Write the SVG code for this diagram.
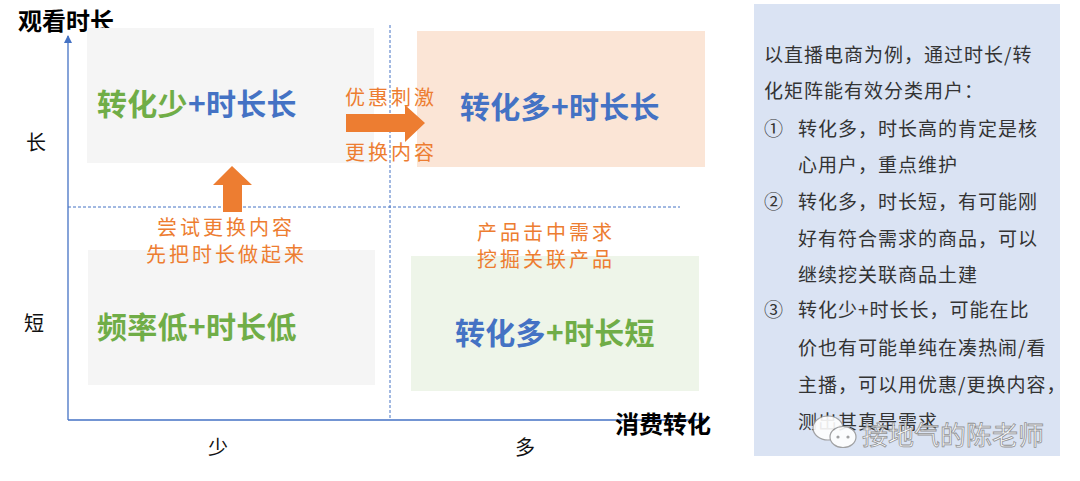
<svg xmlns="http://www.w3.org/2000/svg" width="1080" height="481" viewBox="0 0 1080 481">
<style>
  text { font-family: "Noto Sans CJK SC", "Noto Sans", sans-serif; dominant-baseline: central; }
  .axis { stroke: #4472c4; stroke-width: 1.3; fill: none; }
  .dash { stroke: #4472c4; stroke-width: 1; stroke-dasharray: 3 2; fill: none; }
  .big { font-size: 30px; font-weight: bold; letter-spacing: 0.3px; }
  .g { fill: #70ad47; }
  .b { fill: #4472c4; }
  .or { fill: #ed7d31; font-size: 20px; letter-spacing: 3px; }
  .lab { fill: #111; font-size: 20px; }
  .title { fill: #000; font-size: 24px; font-weight: bold; }
  .p { fill: #333; font-size: 19px; letter-spacing: 1px; }
  .arrow { fill: #ed7d31; }
</style>
<defs>
  <marker id="ah" markerWidth="8" markerHeight="8" refX="7" refY="4" orient="auto" markerUnits="userSpaceOnUse">
    <path d="M0,0 L8,4 L0,8 Z" fill="#4472c4"/>
  </marker>
</defs>
<rect width="1080" height="481" fill="#ffffff"/>

<g id="axes">
  <line class="axis" x1="68" y1="420" x2="68" y2="36" marker-end="url(#ah)"/>
  <line class="axis" x1="68" y1="420" x2="706" y2="420" marker-end="url(#ah)"/>
  <line class="dash" x1="390" y1="25" x2="390" y2="420"/>
  <line class="dash" x1="68" y1="207" x2="680" y2="207"/>
  <text class="title" x="18" y="19">观看时长</text>
  <text class="lab" x="26" y="141">长</text>
  <text class="lab" x="24" y="322">短</text>
  <text class="lab" x="218" y="446" text-anchor="middle">少</text>
  <text class="lab" x="525" y="446" text-anchor="middle">多</text>
</g>

<g id="q-top-left">
  <rect x="87" y="28" width="287" height="135" fill="#f5f5f5"/>
  <text class="big" x="97" y="102"><tspan class="g">转化少</tspan><tspan class="b">+时长长</tspan></text>
</g>
<g id="q-top-right">
  <rect x="417" y="31" width="288" height="136" fill="#fbe5d6"/>
  <text class="big b" x="460" y="105">转化多+时长长</text>
</g>
<g id="q-bottom-left">
  <rect x="88" y="250" width="287" height="135" fill="#f5f5f5"/>
  <text class="big g" x="97" y="325">频率低+时长低</text>
</g>
<g id="q-bottom-right">
  <rect x="411" y="256" width="288" height="135" fill="#eef5e9"/>
  <text class="big" x="455" y="331"><tspan class="b">转化多</tspan><tspan class="g">+时长短</tspan></text>
</g>

<g id="connectors">
  <path class="arrow" d="M346,114 L405,114 L405,105 L425,123 L405,142 L405,132 L346,132 Z"/>
  <path class="arrow" d="M223,212 L223,185 L213,185 L232,166 L252,185 L242,185 L242,212 Z"/>
</g>

<g id="labels">
  <text class="or" x="345" y="96">优惠刺激</text>
  <text class="or" x="345" y="151">更换内容</text>
  <text class="or" x="157" y="226">尝试更换内容</text>
  <text class="or" x="146" y="253">先把时长做起来</text>
  <text class="or" x="477" y="231">产品击中需求</text>
  <text class="or" x="477" y="258">挖掘关联产品</text>
</g>

<g id="x-title">
  <text class="title" x="615" y="422">消费转化</text>
</g>

<g id="panel">
  <rect x="754" y="4" width="306" height="452" fill="#dae3f3"/>
  <text class="p" x="764" y="53">以直播电商为例，通过时长/转</text>
  <text class="p" x="764" y="89">化矩阵能有效分类用户：</text>
  <text class="p" x="764" y="127">①</text>
  <text class="p" x="798" y="127">转化多，时长高的肯定是核</text>
  <text class="p" x="798" y="163">心用户，重点维护</text>
  <text class="p" x="764" y="200">②</text>
  <text class="p" x="798" y="200">转化多，时长短，有可能刚</text>
  <text class="p" x="798" y="237">好有符合需求的商品，可以</text>
  <text class="p" x="798" y="273">继续挖关联商品土建</text>
  <text class="p" x="764" y="308">③</text>
  <text class="p" x="798" y="308">转化少+时长长，可能在比</text>
  <text class="p" x="798" y="346">价也有可能单纯在凑热闹/看</text>
  <text class="p" x="798" y="383">主播，可以用优惠/更换内容，</text>
  <text class="p" x="798" y="420">测出其真是需求</text>
</g>

<g id="watermark" opacity="0.9">
  <ellipse cx="828" cy="428" rx="15" ry="12" fill="#ffffff" stroke="#9a9a9a" stroke-width="1.2"/>
  <ellipse cx="843" cy="437" rx="13" ry="10.5" fill="#ffffff" stroke="#9a9a9a" stroke-width="1.2"/>
  <circle cx="838" cy="437" r="1.6" fill="#9a9a9a"/>
  <circle cx="848" cy="437" r="1.6" fill="#9a9a9a"/>
  <text x="862" y="433" font-size="26" fill="#ffffff" stroke="#8a8a8a" stroke-width="0.8">接地气的陈老师</text>
</g>
</svg>
